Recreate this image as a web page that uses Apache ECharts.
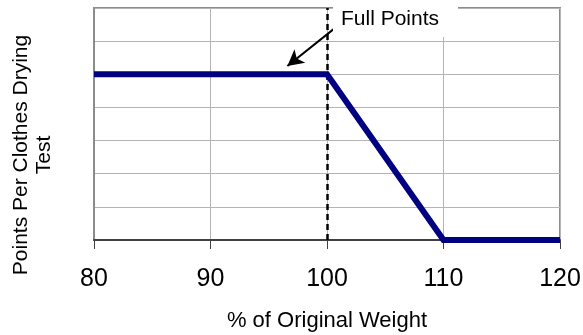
<!DOCTYPE html>
<html>
<head>
<meta charset="utf-8">
<script src="https://cdn.jsdelivr.net/npm/echarts@6/dist/echarts.min.js"></script>
<style>
html,body{margin:0;padding:0;background:#fff;}
#chart{width:583px;height:335px;}
</style>
</head>
<body>
<div id="chart"></div>
<script>
// Data
var weightPct = [80, 100, 110, 120];
var points = [5, 5, 0, 0];
var xTicks = [80, 90, 100, 110, 120];
var fullPointsX = 100;
var arrowFrom = [100.7, 6.4];
var arrowTo = [96.6, 5.25];
var annotationText = 'Full Points';
var xTitle = '% of Original Weight';
var yTitle = 'Points Per Clothes Drying\nTest';

var chart = echarts.init(document.getElementById('chart'), null, {renderer: 'canvas'});
var font = 'Arial, "Liberation Sans", sans-serif';

chart.setOption({
  animation: false,
  backgroundColor: '#ffffff',
  grid: {
    left: 94, right: 23, top: 8, bottom: 95,
    containLabel: false, outerBoundsMode: 'none',
    show: true, borderColor: '#8c8c8c', borderWidth: 2, backgroundColor: 'transparent'
  },
  xAxis: {
    type: 'value',
    min: xTicks[0], max: xTicks[xTicks.length - 1], interval: 10,
    name: xTitle, nameLocation: 'middle', nameGap: 70,
    nameTextStyle: {fontFamily: font, fontSize: 22, color: '#000'},
    axisLine: {show: true, onZero: false, lineStyle: {color: '#404040', width: 2}},
    axisTick: {show: true, length: 9, lineStyle: {color: '#404040', width: 1}},
    axisLabel: {fontFamily: font, fontSize: 25, color: '#000', margin: 27,
      formatter: function (v) { return xTicks.indexOf(v) >= 0 ? String(v) : ''; }},
    splitLine: {show: true, lineStyle: {color: '#b4b4b4', width: 1}}
  },
  yAxis: {
    type: 'value', min: 0, max: 7, interval: 1,
    axisLine: {show: true, lineStyle: {color: '#8c8c8c', width: 2}},
    axisTick: {show: false},
    axisLabel: {show: false},
    splitLine: {show: true, lineStyle: {color: '#b4b4b4', width: 1}}
  },
  series: [{
    type: 'line',
    data: weightPct.map(function (w, i) { return [w, points[i]]; }),
    symbol: 'none',
    lineStyle: {color: '#000080', width: 6, join: 'miter'},
    z: 5,
    markLine: {
      silent: true,
      animation: false,
      symbol: ['none', 'none'],
      label: {show: false},
      data: [
        {xAxis: fullPointsX, lineStyle: {color: '#000', width: 2.5, type: [6, 4]}},
        [
          {coord: arrowFrom, symbol: 'none'},
          {coord: arrowTo, symbol: 'arrow', symbolSize: [13, 16], lineStyle: {color: '#000', width: 2, type: 'solid'}}
        ]
      ]
    }
  }],
  graphic: [
    {type: 'rect', left: 333, top: 0, z: 100, shape: {width: 125, height: 37}, style: {fill: '#fff'}},
    {type: 'text', left: 341, top: 9, z: 101, style: {text: annotationText, font: '21px ' + font, fill: '#000'}},
    {type: 'text', x: 33, y: 155, rotation: Math.PI / 2, z: 101,
      style: {text: yTitle, font: '21px ' + font, lineHeight: 23, fill: '#000', align: 'center', verticalAlign: 'middle'}}
  ]
});
</script>
</body>
</html>
